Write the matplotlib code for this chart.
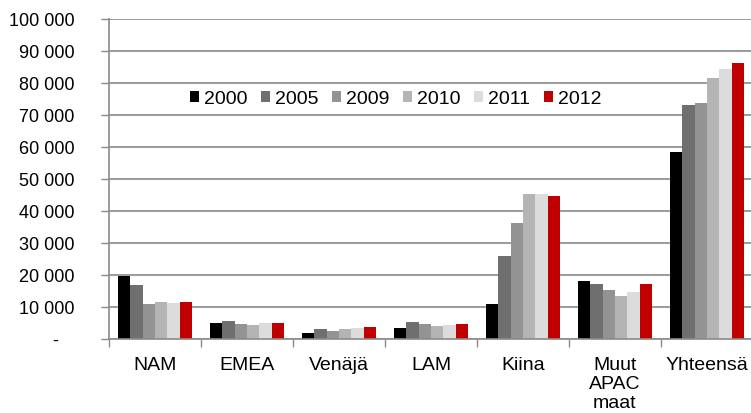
import numpy as np
import matplotlib.pyplot as plt

plt.rcParams['font.family'] = ['Liberation Sans', 'DejaVu Sans']

# Alueet ja vuodet
categories = ['NAM', 'EMEA', 'Venäjä', 'LAM', 'Kiina', 'Muut\nAPAC\nmaat', 'Yhteensä']
years = ['2000', '2005', '2009', '2010', '2011', '2012']

v2000 = [19700, 5100, 1800, 3300, 10800, 18000, 58300]
v2005 = [16900, 5500, 3000, 5200, 26000, 17200, 73200]
v2009 = [10900, 4600, 2600, 4700, 36200, 15300, 73700]
v2010 = [11600, 4300, 3100, 4200, 45300, 13400, 81500]
v2011 = [11300, 5000, 3400, 4500, 45300, 14700, 84300]
v2012 = [11500, 4900, 3700, 4800, 44700, 17200, 86200]
series = [v2000, v2005, v2009, v2010, v2011, v2012]

colors = ['#000000', '#6f6f6f', '#939393', '#b4b4b4', '#dcdcdc', '#c00000']
grid_col = '#8a8a8a'

fig = plt.figure(figsize=(7.51, 4.14), dpi=100)
ax = fig.add_axes([109/751, 1-340/414, 644/751, 320/414])

x = np.arange(len(categories))
w = 0.135
for i, (vals, c, lab) in enumerate(zip(series, colors, years)):
    ax.bar(x + (i - 2.5)*w, vals, width=w, color=c, label=lab, zorder=2)

ax.set_xlim(-0.5, len(categories) - 0.5)
ax.set_ylim(0, 100000)

yt = np.arange(0, 100001, 10000)
ax.set_yticks(yt)
ax.set_yticklabels(['-   '] + ['{:,}'.format(v).replace(',', ' ') for v in yt[1:]],
                   fontsize=13)
ax.tick_params(axis='y', length=6, width=1, color=grid_col, pad=19)
ax.yaxis.grid(True, color=grid_col, linewidth=1.2, zorder=1)

ax.set_xticks(x)
ax.set_xticklabels(categories, fontsize=14, va='top', linespacing=1.15)
ax.tick_params(axis='x', length=0, pad=12)
# väliviivat kategorioiden väliin
ax.set_xticks(np.arange(-0.5, len(categories), 1), minor=True)
ax.tick_params(axis='x', which='minor', length=6, width=1, color=grid_col)

for s in ['top', 'right']:
    ax.spines[s].set_visible(False)
ax.spines['left'].set_color(grid_col)
ax.spines['bottom'].set_color(grid_col)
ax.spines['left'].set_linewidth(1.2)
ax.spines['bottom'].set_linewidth(1.2)

ax.legend(loc='center left', bbox_to_anchor=(190/751, 1-100/414),
          bbox_transform=fig.transFigure, ncol=6, frameon=False, fontsize=14,
          handlelength=0.45, handleheight=0.45, handletextpad=0.25,
          columnspacing=0.72, borderpad=0, borderaxespad=0)

fig.savefig('out.png', dpi=100)
